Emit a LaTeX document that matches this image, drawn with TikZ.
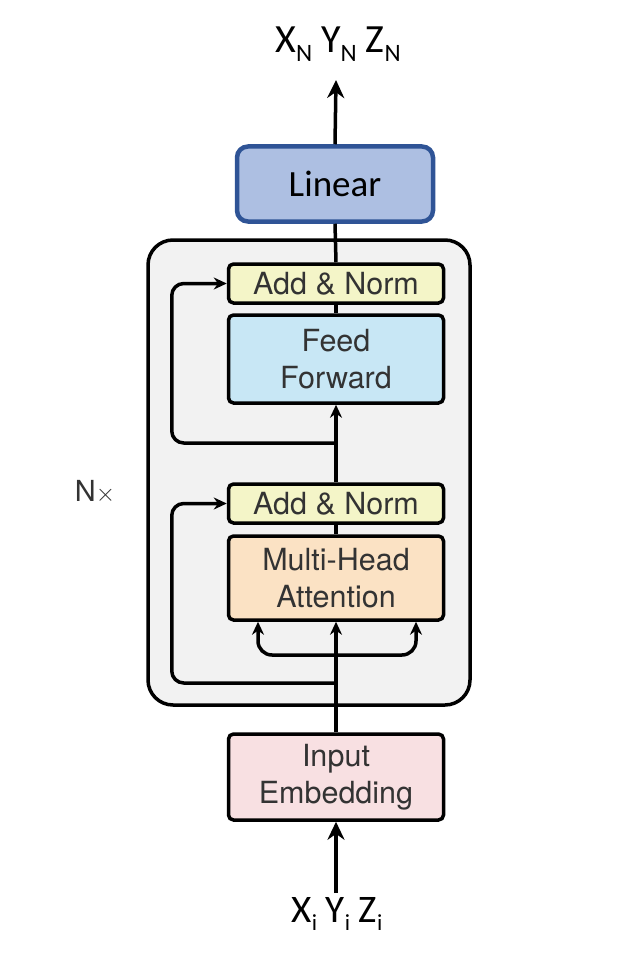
\documentclass[tikz,border=0pt]{standalone}
\usepackage{fontspec}
\setmainfont{TeX Gyre Heros}
\newfontfamily\calib{Carlito}
\usetikzlibrary{arrows.meta,positioning}
\definecolor{linearblue}{HTML}{ADBFE2}
\definecolor{linearedge}{HTML}{2F5496}
\definecolor{layergray}{HTML}{F2F2F2}
\definecolor{normyellow}{HTML}{F4F5C8}
\definecolor{ffblue}{HTML}{C8E7F5}
\definecolor{mhaorange}{HTML}{FBE2C4}
\definecolor{embpink}{HTML}{F8E0E2}
\definecolor{boxtext}{HTML}{333333}
\newcommand{\lowsub}[1]{\raisebox{-0.22em}{\fontsize{25}{25}\selectfont #1}}
\newcommand{\smallsub}[1]{\raisebox{-0.22em}{\fontsize{23}{23}\selectfont #1}}

\begin{document}
\begin{tikzpicture}[x=1pt,y=-1pt, line width=3.5pt,
    >={Stealth[length=13pt,width=12pt]},
    bigarrow/.style={-{Stealth[length=18pt,width=17pt]}},
    blk/.style={draw, rounded corners=5pt, minimum width=215pt, inner sep=0pt,
        align=center, text=boxtext, font=\fontsize{30.5}{37}\selectfont}]
    \useasboundingbox (0,0) rectangle (644,960);
    % encoder layer
    \node[draw, fill=layergray, rounded corners=25pt, minimum width=322pt, minimum height=465pt] (layer) at (309,472.5) {};
    \node[font=\fontsize{29}{30}\selectfont, text=boxtext] (nx) at (95,492) {N$\times$};
    \node[blk, fill=normyellow, minimum height=39pt] (norm1) at (336,283.5) {Add \& Norm};
    \node[blk, fill=ffblue, minimum height=88pt] (ff) at (336,359) {Feed\\Forward};
    \node[blk, fill=normyellow, minimum height=39pt] (norm2) at (336,503.5) {Add \& Norm};
    \node[blk, fill=mhaorange, minimum height=84pt] (mha) at (336,578) {Multi-Head\\Attention};
    \node[blk, fill=embpink, minimum height=86pt] (emb) at (336,777) {Input\\Embedding};
    \node[draw=linearedge, line width=4.5pt, fill=linearblue, rounded corners=11pt, minimum width=196pt, minimum height=75pt,
        font=\calib\fontsize{37}{40}\selectfont] (linear) at (335,184) {Linear};
    \node[font=\calib\fontsize{40}{42}\selectfont] (out) at (338,44) {X\lowsub{N} Y\lowsub{N} Z\lowsub{N}};
    \node[font=\calib\fontsize{39}{42}\selectfont] (in) at (337,914) {X\smallsub{i} Y\smallsub{i} Z\smallsub{i}};
    \coordinate (outtip) at (336,80);
    \coordinate (intail) at (336,893);
    \coordinate (res1) at (336,443);
    \coordinate (res2) at (336,683);
    \coordinate (split) at (336,655);
    % connectors
    \draw[bigarrow] (linear.north) -- (outtip);
    \draw (linear.south) -- (norm1.north);
    \draw (norm1.south) -- (ff.north);
    \draw[->] (norm2.north) -- (ff.south);
    \draw (mha.north) -- (norm2.south);
    \draw[->] (emb.north) -- (mha.south);
    \draw[bigarrow] (intail) -- (emb.south);
    \draw[->, rounded corners=12pt] (res1) -| ([xshift=-55pt]norm1.west) -- (norm1.west);
    \draw[->, rounded corners=12pt] (res2) -| ([xshift=-55pt]norm2.west) -- (norm2.west);
    \draw[->, rounded corners=14pt] (split) -| ([xshift=-78pt]mha.south);
    \draw[->, rounded corners=14pt] (split) -| ([xshift=80pt]mha.south);
\end{tikzpicture}
\end{document}
